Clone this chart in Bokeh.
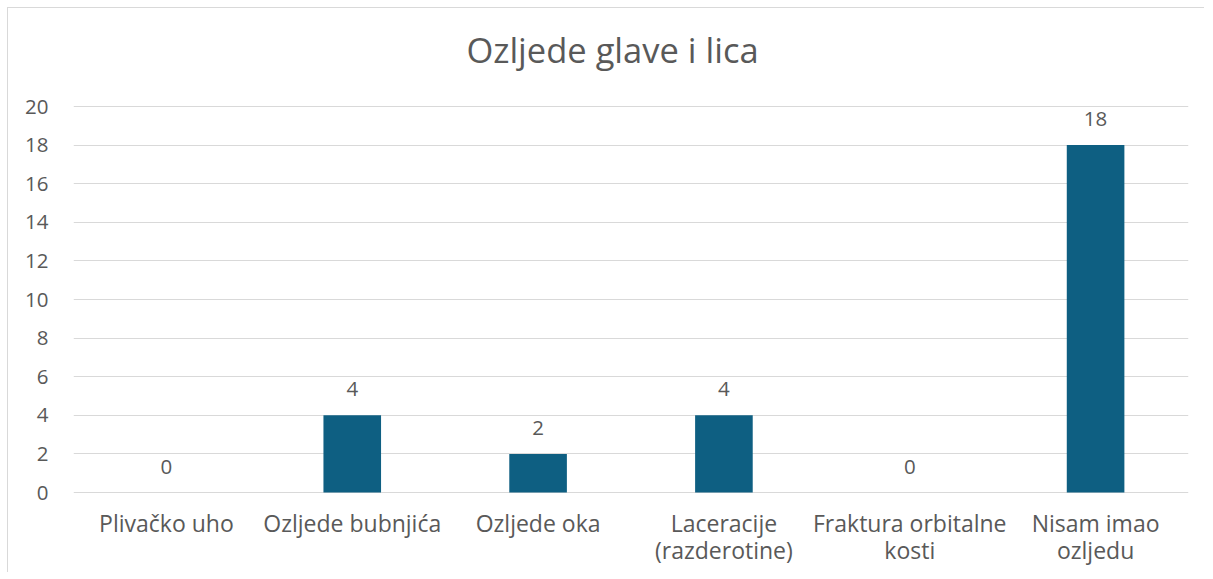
from bokeh.plotting import figure
from bokeh.models import ColumnDataSource, Label, Range1d, FixedTicker
from bokeh.core.properties import value
from bokeh.embed import file_html
from bokeh.resources import INLINE

title = "Ozljede glave i lica"
categories = ["Plivačko uho", "Ozljede bubnjića", "Ozljede oka",
              "Laceracije\n(razderotine)", "Fraktura orbitalne\nkosti", "Nisam imao\nozljedu"]
values = [0, 4, 2, 4, 0, 18]
y_ticks = [0, 2, 4, 6, 8, 10, 12, 14, 16, 18, 20]

FONT = "Open Sans"
TXT = "#595959"
GRID = "#D9D9D9"
BAR = "#0E5F82"

W, H = 1197, 565
TOP, BOTTOM, LEFT, RIGHT = 2, 2, 65, 17
# pixel geometry of the value axis: 0..20 spans 386 px, 20 sits 96 px below the frame top
px_per_unit = 386 / 20.0
frame_h = H - TOP - BOTTOM
y_hi = max(y_ticks) + 96 / px_per_unit
y_lo = y_hi - frame_h / px_per_unit

source = ColumnDataSource(dict(cat=categories, val=values, lab=[str(v) for v in values],
                               base=[0] * len(categories)))

p = figure(x_range=categories, y_range=Range1d(y_lo, y_hi), width=W, height=H,
           output_backend="svg", toolbar_location=None,
           min_border_left=LEFT, min_border_right=RIGHT, min_border_top=TOP, min_border_bottom=BOTTOM)
p.margin = (7, 0, 0, 7)

p.vbar(x="cat", top="val", width=0.31, fill_color=BAR, line_color=None, source=source)

p.text(x="cat", y="val", text="lab", source=source, text_align="center",
       text_baseline="middle", y_offset=-26, text_font=value(FONT),
       text_font_size="20.5px", text_color=TXT)

p.text(x="cat", y="base", text="cat", source=source, text_align="center",
       text_baseline="top", y_offset=14, text_font=value(FONT),
       text_font_size="23px", text_color=TXT, text_line_height=0.85)

p.add_layout(Label(x=539, y=H - 43, x_units="screen", y_units="screen", text=title,
                   text_align="center", text_baseline="middle", text_font=FONT,
                   text_font_size="34.5px", text_color=TXT))

p.outline_line_color = None
p.background_fill_color = "white"
p.border_fill_color = "white"

p.xgrid.grid_line_color = None
p.ygrid.grid_line_color = GRID
p.ygrid.grid_line_width = 1
p.ygrid.ticker = FixedTicker(ticks=y_ticks)

p.xaxis.visible = False

p.yaxis.ticker = FixedTicker(ticks=y_ticks)
p.yaxis.axis_line_color = None
p.yaxis.major_tick_line_color = None
p.yaxis.minor_tick_line_color = None
p.yaxis.major_tick_out = 0
p.yaxis.major_label_standoff = 25
p.yaxis.major_label_text_font = FONT
p.yaxis.major_label_text_font_size = "20.5px"
p.yaxis.major_label_text_color = TXT

p.styles = {"border-top": "1px solid #D9D9D9", "border-left": "1px solid #D9D9D9"}

open("out.html", "w").write(file_html(p, INLINE))
